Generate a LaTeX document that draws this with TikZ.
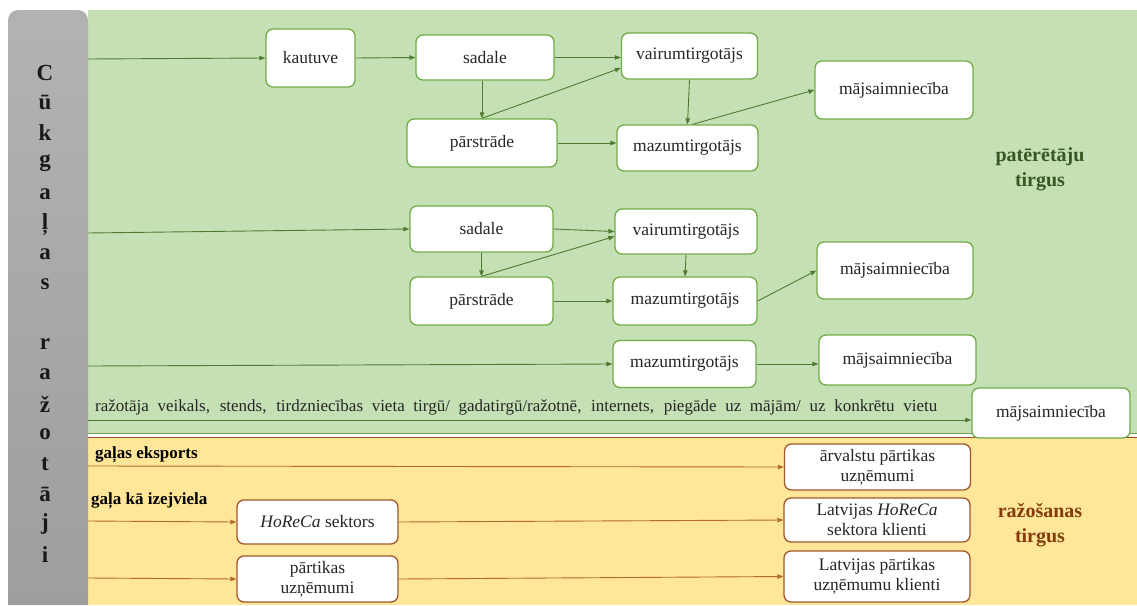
\documentclass[tikz,border=0pt]{standalone}
\usepackage{fontspec}
\setmainfont{Liberation Serif}
\usetikzlibrary{arrows.meta}
\definecolor{bggreen}{HTML}{C5E0B4}
\definecolor{bgorange}{HTML}{FFE699}
\definecolor{gborder}{HTML}{70AD47}
\definecolor{garrow}{HTML}{4F7A34}
\definecolor{oborder}{HTML}{A0582A}
\definecolor{oarrow}{HTML}{B36B2E}
\definecolor{txtc}{HTML}{262626}
\definecolor{dgreen}{HTML}{385723}
\definecolor{dbrown}{HTML}{843C0C}
\definecolor{sepgreen}{HTML}{6E9F50}
\definecolor{sepbrown}{HTML}{9B4A1A}
\begin{document}
\begin{tikzpicture}[x=1pt,y=-1pt,
  gbox/.style={draw=gborder, line width=1.3pt, fill=white, rounded corners=7pt,
    font=\fontsize{17.5}{20}\selectfont, text=txtc, inner sep=0pt, align=center},
  obox/.style={gbox, draw=oborder},
  sz/.style 2 args={minimum width=#1pt, minimum height=#2pt},
  garr/.style={draw=garrow, line width=0.9pt, -{Triangle[length=6pt,width=4.5pt]}},
  oarr/.style={draw=oarrow, line width=0.9pt, -{Triangle[length=6pt,width=4.5pt]}},
  barletter/.style={font=\fontsize{23}{23}\selectfont\bfseries, text=black!90, inner sep=0pt},
  side/.style={font=\fontsize{17}{20}\selectfont\bfseries, anchor=west, inner sep=0pt},
  market/.style={font=\fontsize{20}{25}\selectfont\bfseries, align=center, inner sep=0pt}
]
\useasboundingbox (0,0) rectangle (1137,605);
% backgrounds
\fill[bggreen] (88,10) rectangle (1137,433);
\fill[bgorange] (88,437) rectangle (1137,605);
\draw[sepgreen, line width=1pt] (88,433) -- (1137,433);
\draw[sepbrown, line width=1pt] (88,437.5) -- (1137,437.5);
\shade[top color=black!30, bottom color=black!38, rounded corners=10pt]
  (8,605) -- (8,10) -- (88,10) -- (88,605);
% vertical letters
\foreach \l/\yy [count=\i] in {C/73,ū/103,k/133,g/163,a/194,ļ/224,a/254,s/284,
  r/344,a/374,ž/404,o/434,t/464,ā/494,j/524,i/555}
  \node[barletter] (L\i) at (45,\yy) {\l};
% market labels
\node[market, text=dgreen] (pt) at (1040,169) {patērētāju\\tirgus};
\node[market, text=dbrown] (rt) at (1040,525) {ražošanas\\tirgus};
% row 1
\node[gbox, sz={89}{58}] (kaut) at (310.5,58) {kautuve};
\node[gbox, sz={138}{45}] (sad1) at (485,57.5) {sadale};
\node[gbox, sz={136}{46}] (vai1) at (689.5,56) {vairumtirgotājs};
\node[gbox, sz={150}{48}] (par1) at (482,143) {pārstrāde};
\node[gbox, sz={141}{46}] (maz1) at (687.5,148) {mazumtirgotājs};
\node[gbox, sz={158}{58}] (maj1) at (894,90) {mājsaimniecība};
% row 2
\node[gbox, sz={143}{46}] (sad2) at (481.5,229) {sadale};
\node[gbox, sz={142}{45}] (vai2) at (686,231.5) {vairumtirgotājs};
\node[gbox, sz={143}{48}] (par2) at (481.5,301) {pārstrāde};
\node[gbox, sz={144}{48}] (maz2) at (685,301) {mazumtirgotājs};
\node[gbox, sz={156}{57}] (maj2) at (895,270.5) {mājsaimniecība};
% row 3
\node[gbox, sz={143}{47}] (maz3) at (684.5,364) {mazumtirgotājs};
\node[gbox, sz={157}{50}] (maj3) at (897.5,360) {mājsaimniecība};
% row 4
\node[gbox, sz={158}{50}] (maj4) at (1051,413) {mājsaimniecība};
\node[anchor=west, inner sep=0pt, font=\fontsize{17}{19}\selectfont, text=txtc] (r4t) at (95,407)
  {\makebox[842pt][s]{ražotāja veikals, stends, tirdzniecības vieta tirgū/ gadatirgū/ražotnē, internets, piegāde uz mājām/ uz konkrētu vietu}};
% production market
\node[obox, sz={186}{46}] (arv) at (877.5,467) {ārvalstu pārtikas\\uzņēmumi};
\node[obox, sz={186}{44}] (lhor) at (877,520) {Latvijas \textit{HoReCa}\\sektora klienti};
\node[obox, sz={186}{51}] (lpar) at (877,576.5) {Latvijas pārtikas\\uzņēmumu klienti};
\node[obox, sz={161}{44}] (hor) at (317.5,522) {\textit{HoReCa} sektors};
\node[obox, sz={161}{46}] (ptu) at (317.5,579) {pārtikas\\uzņēmumi};
\node[side] (gek) at (95,455) {gaļas eksports};
\node[side] (giz) at (91,501) {gaļa kā izejviela};
% start coordinates
\coordinate (s1) at (88,59);
\coordinate (s2) at (88,233);
\coordinate (s3) at (88,366);
\coordinate (s4) at (88,420);
\coordinate (s5) at (88,466);
\coordinate (s6) at (88,521);
\coordinate (s7) at (88,578);
% row 1 edges
\draw[garr] (s1) -- (kaut.west);
\draw[garr] (kaut.east) -- (sad1.west);
\draw[garr] (sad1.east) -- (vai1.west |- sad1.east);
\draw[garr] (sad1.south -| par1.north) -- (par1.north);
\draw[garr] (par1.north) -- ([yshift=-12pt]vai1.west);
\draw[garr] (par1.east) -- (par1.east -| maz1.west);
\draw[garr] (vai1.south) -- (maz1.north);
\draw[garr] ([xshift=5pt]maz1.north) -- (maj1.west);
% row 2 edges
\draw[garr] (s2) -- (sad2.west);
\draw[garr] (sad2.east) -- (vai2.west);
\draw[garr] (sad2.south) -- (par2.north);
\draw[garr] (par2.north) -- ([yshift=-5pt]vai2.west);
\draw[garr] (par2.east) -- (maz2.west);
\draw[garr] (vai2.south) -- (maz2.north);
\draw[garr] (maz2.east) -- (maj2.west);
% row 3 edges
\draw[garr] (s3) -- (maz3.west);
\draw[garr] (maz3.east) -- (maz3.east -| maj3.west);
% row 4 edge
\draw[garr] (s4) -- (s4 -| maj4.west);
% production edges
\draw[oarr] (s5) -- (arv.west);
\draw[oarr] (s6) -- (hor.west);
\draw[oarr] (hor.east) -- (lhor.west);
\draw[oarr] (s7) -- (ptu.west);
\draw[oarr] (ptu.east) -- (lpar.west);
\end{tikzpicture}
\end{document}
